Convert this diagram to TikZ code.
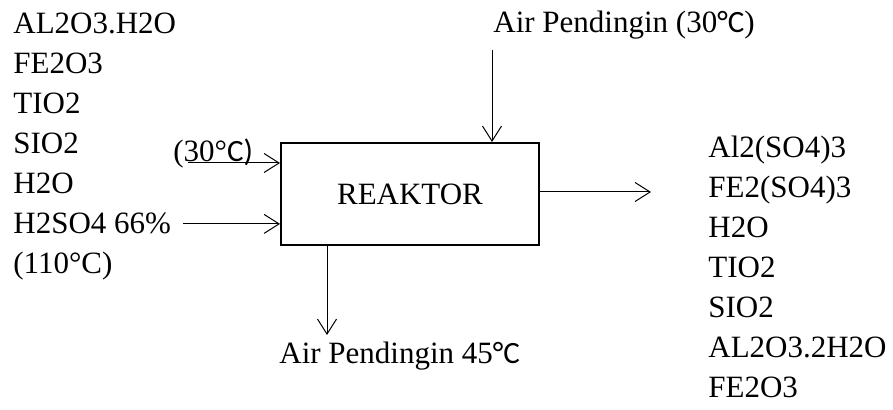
\documentclass[tikz,border=0pt]{standalone}
\usepackage{fontspec}
\setmainfont{Liberation Serif}
\newfontfamily\degfont{Carlito}
\usetikzlibrary{positioning,arrows.meta}

\begin{document}
\begin{tikzpicture}[x=0.5pt, y=-0.5pt,
    font=\fontsize{15.5pt}{18pt}\selectfont,
    chem/.style={inner sep=0pt, anchor=base west},
    flow/.style={-{Straight Barb[length=7.5pt,width=9.5pt]}, line width=0.5pt}]
    \useasboundingbox (0,0) rectangle (893,410);
    \node[draw, line width=1pt, minimum width=129pt, minimum height=51pt] (reaktor) at (410,194) {REAKTOR};
    % bahan masuk
    \node[chem] (al) at (13,34) {AL2O3.H2O};
    \node[below=20pt of al.base west, chem] (fe) {FE2O3};
    \node[below=20pt of fe.base west, chem] (ti) {TIO2};
    \node[below=20pt of ti.base west, chem] (si) {SIO2};
    \node[below=20pt of si.base west, chem] (air) {H2O};
    \node[below=20pt of air.base west, chem] (asam) {H2SO4 66\%};
    \node[below=20pt of asam.base west, chem] (asamT) {(110°C)};
    \node[chem] (feedT) at (173,162) {(30°{\degfont C)}};
    \coordinate (f1) at (188,163);
    \draw[flow] (f1) -- (f1 -| reaktor.west);
    \draw[flow] ([xshift=6pt]asam.east) -- (asam.east -| reaktor.west);
    % air pendingin
    \node[chem] (coolin) at (493,33) {Air Pendingin (30{\degfont°C})};
    \coordinate (c1) at (492,50);
    \draw[flow] (c1) -- (c1 |- reaktor.north);
    \node[chem] (coolout) at (279,364) {Air Pendingin 45{\degfont°C}};
    \coordinate (c2) at (327,335);
    \draw[flow] (c2 |- reaktor.south) -- (c2);
    % produk
    \coordinate (p1) at (651,192);
    \draw[flow] (p1 -| reaktor.east) -- (p1);
    \node[chem] (alsulf) at (708,158) {Al2(SO4)3};
    \node[below=20pt of alsulf.base west, chem] (fesulf) {FE2(SO4)3};
    \node[below=20pt of fesulf.base west, chem] (airP) {H2O};
    \node[below=20pt of airP.base west, chem] (tiP) {TIO2};
    \node[below=20pt of tiP.base west, chem] (siP) {SIO2};
    \node[below=20pt of siP.base west, chem] (alP) {AL2O3.2H2O};
    \node[below=20pt of alP.base west, chem] (feP) {FE2O3};
\end{tikzpicture}
\end{document}
